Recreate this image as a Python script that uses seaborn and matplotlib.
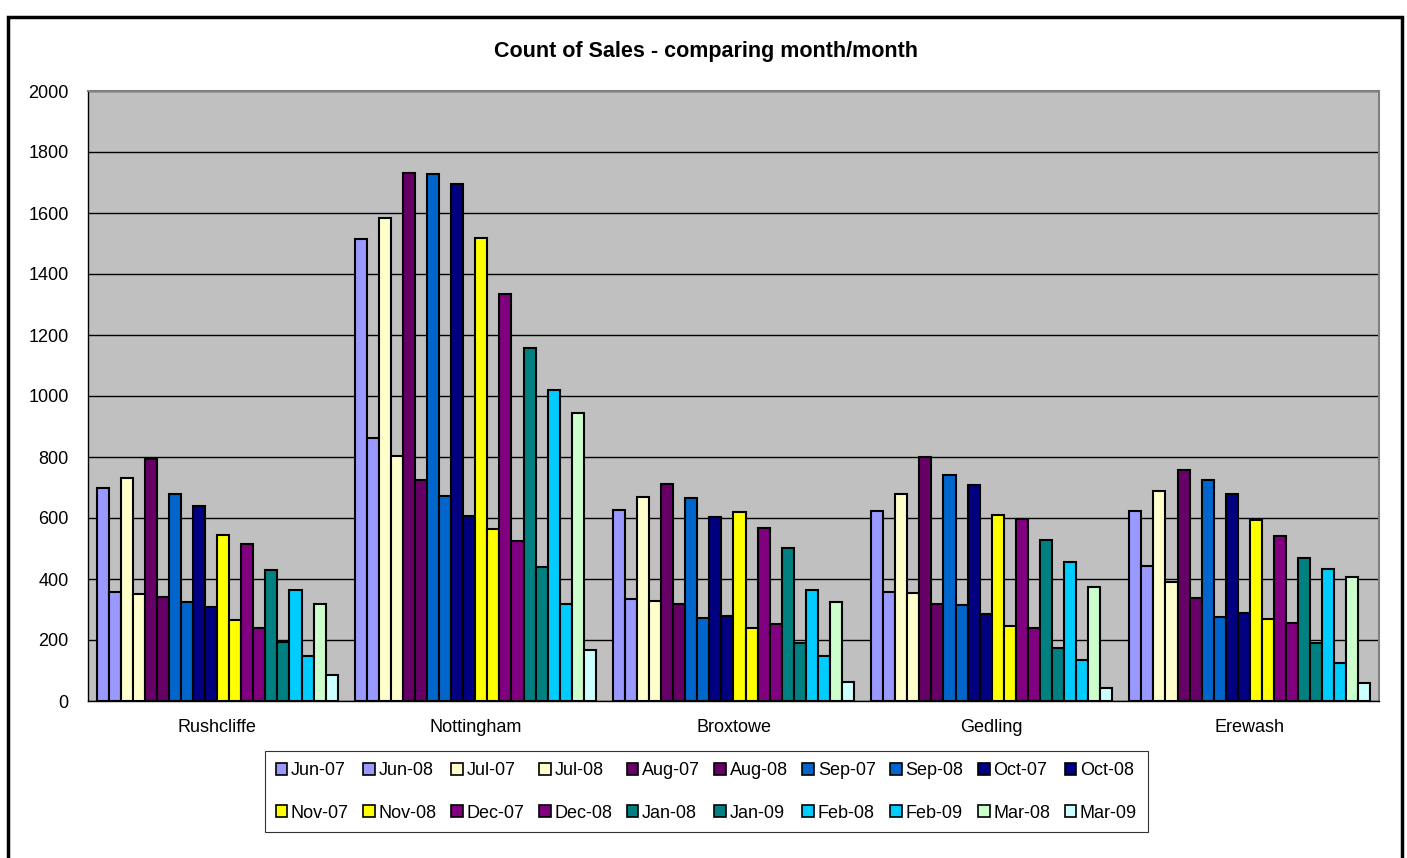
import pandas as pd
import seaborn as sns
import matplotlib.pyplot as plt
from matplotlib.patches import Rectangle

# --- data ---
areas = ["Rushcliffe", "Nottingham", "Broxtowe", "Gedling", "Erewash"]
months = ["Jun-07", "Jun-08", "Jul-07", "Jul-08", "Aug-07", "Aug-08",
          "Sep-07", "Sep-08", "Oct-07", "Oct-08", "Nov-07", "Nov-08",
          "Dec-07", "Dec-08", "Jan-08", "Jan-09", "Feb-08", "Feb-09",
          "Mar-08", "Mar-09"]

rushcliffe = [699, 356, 730, 350, 792, 340, 678, 325, 639, 307,
              545, 265, 514, 238, 428, 195, 363, 149, 318, 86]
nottingham = [1516, 863, 1583, 803, 1731, 723, 1727, 672, 1696, 605,
              1517, 564, 1335, 524, 1158, 440, 1020, 319, 945, 168]
broxtowe = [625, 333, 670, 327, 712, 318, 665, 273, 602, 280,
            621, 240, 567, 251, 503, 191, 363, 148, 325, 62]
gedling = [624, 357, 678, 355, 801, 318, 740, 314, 708, 286,
           611, 247, 598, 238, 529, 174, 457, 136, 375, 44]
erewash = [622, 443, 690, 391, 756, 337, 726, 277, 680, 287,
           592, 269, 541, 255, 470, 191, 432, 126, 407, 59]

colors = ["#9999FF", "#9999FF", "#FFFFCC", "#FFFFCC", "#660066", "#660066",
          "#0066CC", "#0066CC", "#000080", "#000080", "#FFFF00", "#FFFF00",
          "#800080", "#800080", "#008080", "#008080", "#00CCFF", "#00CCFF",
          "#CCFFCC", "#CCFFFF"]

rows = []
for area, vals in zip(areas, [rushcliffe, nottingham, broxtowe, gedling, erewash]):
    for m, v in zip(months, vals):
        rows.append({"area": area, "month": m, "count": v})
df = pd.DataFrame(rows)

sns.set_style("white")
plt.rcParams["font.family"] = ["Liberation Sans", "DejaVu Sans"]
plt.rcParams["text.color"] = "black"
plt.rcParams["xtick.color"] = "black"
plt.rcParams["ytick.color"] = "black"
plt.rcParams["xtick.labelcolor"] = "black"
plt.rcParams["ytick.labelcolor"] = "black"

fig = plt.figure(figsize=(14.07, 8.58), dpi=100)
ax = fig.add_axes([88 / 1407, 157 / 858, 1291 / 1407, 610 / 858])
ax.set_facecolor("#C0C0C0")

sns.barplot(data=df, x="area", y="count", hue="month", order=areas,
            hue_order=months, palette=colors, width=0.934, gap=0,
            edgecolor="black", linewidth=1.5, saturation=1, ax=ax,
            legend=True, err_kws={"linewidth": 0})

ax.set_ylim(0, 2000)
ax.set_xlim(-0.5, len(areas) - 0.5)
ax.set_yticks(range(0, 2001, 200))
ax.yaxis.grid(True, color="black", linewidth=1)
ax.set_axisbelow(True)

# category ticks sit on the group boundaries, labels centred
ax.set_xticks([i - 0.5 for i in range(len(areas) + 1)])
ax.set_xticklabels([])
ax.set_xticks(range(len(areas)), minor=True)
ax.set_xticklabels(areas, minor=True)
ax.tick_params(axis="x", which="major", direction="out", length=6, width=1, color="black")
ax.tick_params(axis="x", which="minor", length=0, pad=13, labelsize=13, labelcolor="black")
ax.tick_params(axis="y", direction="out", length=6, width=1, color="black",
               labelsize=13, pad=8, labelcolor="black")
ax.set_xlabel("")
ax.set_ylabel("")

for side in ["left", "bottom"]:
    ax.spines[side].set_color("black")
    ax.spines[side].set_linewidth(1)
for side in ["top", "right"]:
    ax.spines[side].set_color("#808080")
    ax.spines[side].set_linewidth(1.5)

fig.text(0.502, (858 - 51) / 858, "Count of Sales - comparing month/month",
         ha="center", va="center", fontsize=15.5, fontweight="bold", color="black")

# legend: two rows of ten, filled column-wise so reorder
handles, labels = ax.get_legend_handles_labels()
ax.get_legend().remove()
order = []
for i in range(10):
    order += [i, i + 10]
leg = fig.legend([handles[i] for i in order], [labels[i] for i in order],
                 loc="center", bbox_to_anchor=(0.502, 0.077), ncol=10,
                 fontsize=13, frameon=True, fancybox=False, edgecolor="black",
                 handlelength=0.65, handleheight=0.65, handletextpad=0.2,
                 columnspacing=0.8, labelspacing=1.4, borderpad=0.6,
                 labelcolor="black")
leg.get_frame().set_linewidth(0.8)
for h in leg.legend_handles:
    h.set_edgecolor("black")
    h.set_linewidth(1.2)

# outer chart border
fig.patches.append(Rectangle((8 / 1407, -0.02), 1394 / 1407, (858 - 17) / 858 + 0.02,
                             transform=fig.transFigure, fill=False,
                             edgecolor="black", linewidth=2.5, clip_on=False))

fig.savefig("out.png", dpi=100)
plt.close(fig)
